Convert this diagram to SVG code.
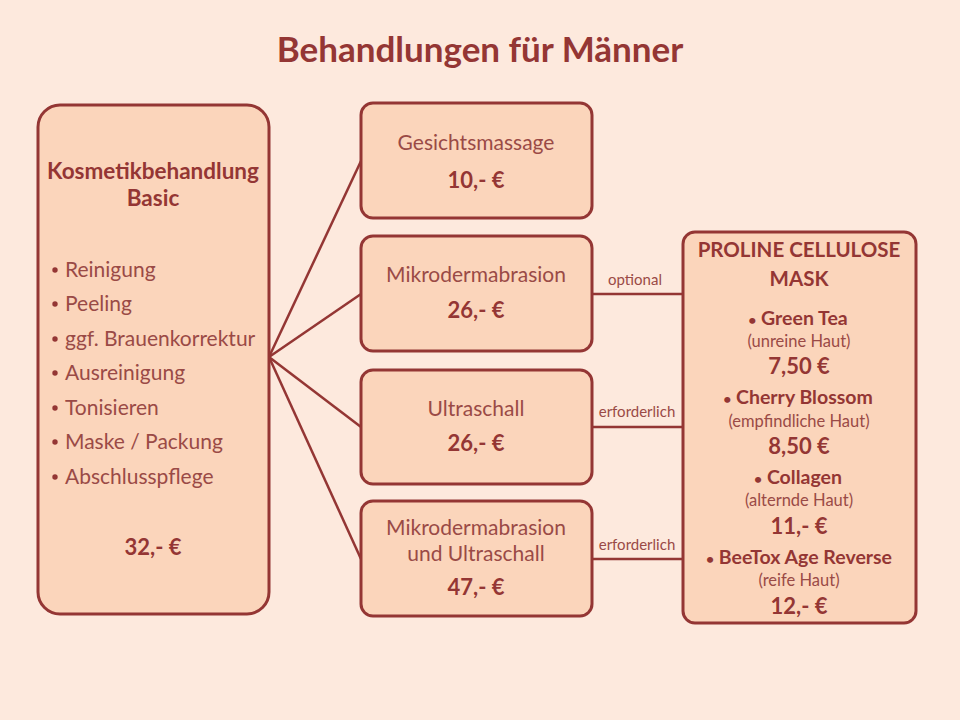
<svg xmlns="http://www.w3.org/2000/svg" width="960" height="720" viewBox="0 0 960 720">
<style>
text{font-family:Lato,"Open Sans","Liberation Sans",sans-serif;fill:#943634}
.b{font-weight:bold}
.c{text-anchor:middle}
.box{fill:#fbd5bb;stroke:#943634;stroke-width:3}
.ln{stroke:#943634;stroke-width:2.5;fill:none}
.r{font-size:21px;fill:#9a4a46}
.p{font-size:22px}
.h{font-size:22.5px}
.m{font-size:19.5px}
.bu{font-size:14px}
.s{font-size:16.5px;fill:#9a4a46}
.l{font-size:15px;fill:#9a4a46}
.dot{fill:#943634}
</style>
<rect width="960" height="720" fill="#fde9dd"/>
<text x="480" y="62" class="b c" style="font-size:35px">Behandlungen für Männer</text>
<g id="connectors">
<line class="ln" x1="269" y1="357" x2="361" y2="161"/>
<line class="ln" x1="269" y1="357" x2="361" y2="294"/>
<line class="ln" x1="269" y1="357" x2="361" y2="427"/>
<line class="ln" x1="269" y1="357" x2="361" y2="559"/>
<line class="ln" x1="592" y1="294" x2="683" y2="294"/>
<line class="ln" x1="592" y1="427" x2="683" y2="427"/>
<line class="ln" x1="592" y1="559" x2="683" y2="559"/>
<text x="635" y="285" class="l c">optional</text>
<text x="637" y="417" class="l c">erforderlich</text>
<text x="637" y="550" class="l c">erforderlich</text>
</g>
<g id="basic">
<rect class="box" x="38" y="105" width="231" height="509" rx="22"/>
<text x="153" y="179" class="b c h">Kosmetikbehandlung</text>
<text x="153" y="206" class="b c h">Basic</text>
<circle class="dot" cx="55" cy="270" r="2.7"/><text x="65" y="277" class="r">Reinigung</text>
<circle class="dot" cx="55" cy="304" r="2.7"/><text x="65" y="311" class="r">Peeling</text>
<circle class="dot" cx="55" cy="339" r="2.7"/><text x="65" y="346" class="r">ggf. Brauenkorrektur</text>
<circle class="dot" cx="55" cy="373" r="2.7"/><text x="65" y="380" class="r">Ausreinigung</text>
<circle class="dot" cx="55" cy="408" r="2.7"/><text x="65" y="415" class="r">Tonisieren</text>
<circle class="dot" cx="55" cy="442" r="2.7"/><text x="65" y="449" class="r">Maske / Packung</text>
<circle class="dot" cx="55" cy="477" r="2.7"/><text x="65" y="484" class="r">Abschlusspflege</text>
<text x="153" y="555" class="b c p">32,- €</text>
</g>
<g id="gesichtsmassage">
<rect class="box" x="361" y="103" width="231" height="115" rx="12"/>
<text x="476" y="150" class="c r">Gesichtsmassage</text>
<text x="476" y="188" class="b c p">10,- €</text>
</g>
<g id="mikro">
<rect class="box" x="361" y="236" width="231" height="115" rx="12"/>
<text x="476" y="282" class="c r">Mikrodermabrasion</text>
<text x="476" y="318" class="b c p">26,- €</text>
</g>
<g id="ultraschall">
<rect class="box" x="361" y="370" width="231" height="114" rx="12"/>
<text x="476" y="416" class="c r">Ultraschall</text>
<text x="476" y="451" class="b c p">26,- €</text>
</g>
<g id="mikro-ultra">
<rect class="box" x="361" y="501" width="231" height="115" rx="12"/>
<text x="476" y="535" class="c r">Mikrodermabrasion</text>
<text x="476" y="561" class="c r">und Ultraschall</text>
<text x="476" y="595" class="b c p">47,- €</text>
</g>
<g id="proline">
<rect class="box" x="683" y="232" width="233" height="391" rx="12"/>
<text x="799" y="257" class="b c" style="font-size:20.5px">PROLINE CELLULOSE</text>
<text x="799" y="286" class="b c" style="font-size:20.5px">MASK</text>
<text x="798" y="325" class="b c m"><tspan class="bu">•</tspan> Green Tea</text>
<text x="799" y="347" class="c s">(unreine Haut)</text>
<text x="799" y="374" class="b c p">7,50 €</text>
<text x="798" y="404" class="b c m"><tspan class="bu">•</tspan> Cherry Blossom</text>
<text x="799" y="427" class="c s">(empfindliche Haut)</text>
<text x="799" y="454" class="b c p">8,50 €</text>
<text x="798" y="484" class="b c m"><tspan class="bu">•</tspan>  Collagen</text>
<text x="799" y="506" class="c s">(alternde Haut)</text>
<text x="799" y="534" class="b c p">11,- €</text>
<text x="799" y="564" class="b c m"><tspan class="bu">•</tspan>  BeeTox Age Reverse</text>
<text x="799" y="586" class="c s">(reife Haut)</text>
<text x="799" y="614" class="b c p">12,- €</text>
</g>
</svg>
